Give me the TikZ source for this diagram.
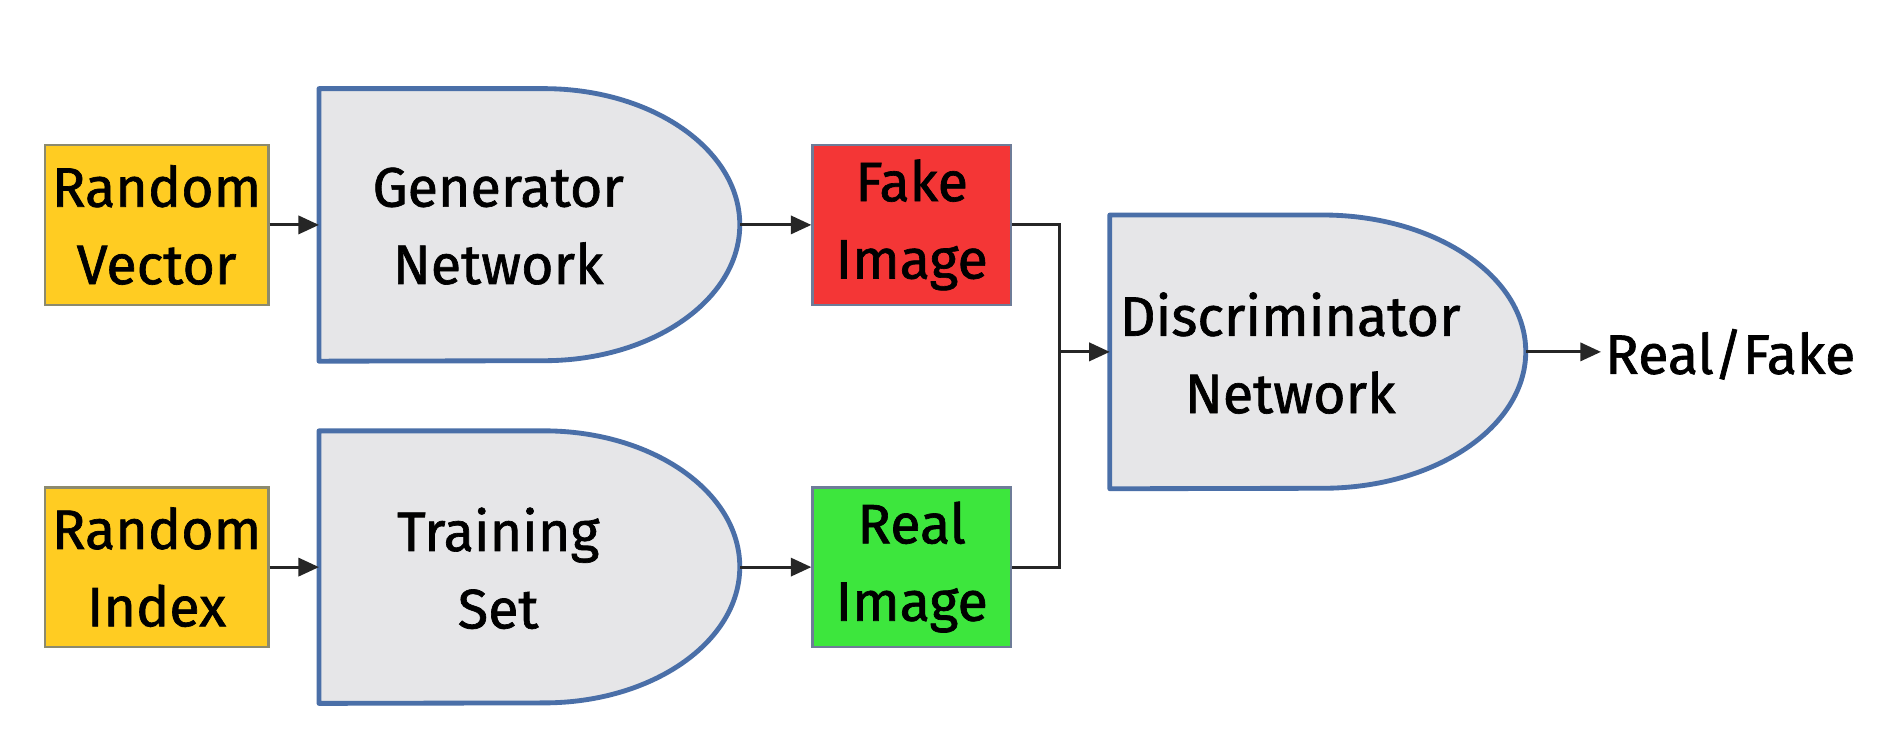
\documentclass[tikz,border=0pt]{standalone}
\usepackage{fontspec}
\setmainfont{Fira Sans}[FakeBold=1.2]
\usetikzlibrary{arrows.meta}
\definecolor{ycol}{HTML}{FFCC22}
\definecolor{ybord}{HTML}{8C8A6E}
\definecolor{rcol}{HTML}{F43636}
\definecolor{gcol}{HTML}{3DE63D}
\definecolor{cbord}{HTML}{6E7C98}
\definecolor{gfill}{HTML}{E6E6E8}
\definecolor{gbord}{HTML}{4A6FA8}
\tikzset{
  txt/.style={font=\fontsize{46}{64}\selectfont, align=center, text=black},
  inbox/.style={txt, draw=ybord, fill=ycol, line width=2pt, minimum width=185pt, minimum height=132pt, inner sep=0pt},
  imgbox/.style={txt, draw=cbord, line width=2pt, minimum width=164pt, minimum height=132pt, inner sep=0pt},
  gate/.style={minimum width=348pt, minimum height=225pt, inner sep=0pt},
  gatepath/.style={draw=gbord, fill=gfill, line width=4pt, line join=round},
  conn/.style={draw=black!85, line width=2.5pt},
  arr/.style={conn, -{Triangle[length=17pt,width=15pt]}},
}
\begin{document}
\begin{tikzpicture}[x=1pt,y=-1pt]
\useasboundingbox[fill=white] (0,0) rectangle (1568,624);
% input boxes
\node[inbox] (rv) at (129.5,186) {Random\\Vector};
\node[inbox] (ri) at (129.5,469) {Random\\Index};
% gates
\node[gate] (gen) at (438,186) {};
\node[gate] (ts) at (438,469) {};
\node[gate, minimum width=344pt, minimum height=226pt] (disc) at (1090,291) {};
\draw[gatepath] (gen.south west) -- (gen.north west) -- ++(186pt,0pt)
  arc[start angle=90, end angle=-90, x radius=162pt, y radius=112.5pt] -- cycle;
\draw[gatepath] (ts.south west) -- (ts.north west) -- ++(186pt,0pt)
  arc[start angle=90, end angle=-90, x radius=162pt, y radius=112.5pt] -- cycle;
\draw[gatepath] (disc.south west) -- (disc.north west) -- ++(176pt,0pt)
  arc[start angle=90, end angle=-90, x radius=168pt, y radius=113pt] -- cycle;
\node[txt] (gent) at ([xshift=-26pt,yshift=-1pt]gen.center) {Generator\\Network};
\node[txt] (tst) at ([xshift=-26pt,yshift=-1pt]ts.center) {Training\\Set};
\node[txt] (disct) at ([xshift=-23pt,yshift=-1pt]disc.center) {Discriminator\\Network};
% images
\node[imgbox, fill=rcol] (fake) at (754,186) {Fake\\Image};
\node[imgbox, fill=gcol] (real) at (754,469) {Real\\Image};
% output
\node[txt, anchor=west] (out) at (1324,293) {Real/Fake};
% connectors
\draw[arr] (rv.east) -- (gen.west);
\draw[arr] (ri.east) -- (ts.west);
\draw[arr] (gen.east) -- (fake.west);
\draw[arr] (ts.east) -- (real.west);
\coordinate (j) at (876,291);
\draw[conn] (fake.east) -| (j);
\draw[conn] (real.east) -| (j);
\draw[arr] (j) -- (disc.west);
\draw[arr] (disc.east) -- (disc.east -| out.west);
\end{tikzpicture}
\end{document}
